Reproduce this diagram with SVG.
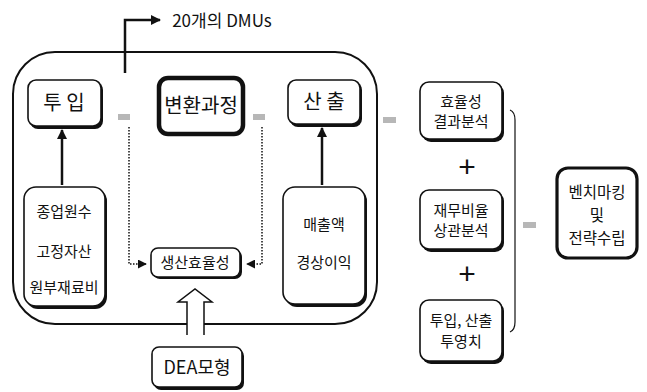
<svg xmlns="http://www.w3.org/2000/svg" width="647" height="392" viewBox="0 0 647 392">
<defs>
<style>
text{font-family:"Noto Sans CJK KR","Liberation Sans",sans-serif;fill:#111;text-anchor:middle}
.box{fill:#fff;stroke:#111;stroke-width:1.6}
.sh{fill:#111}
.t20{font-size:20px}
.t15{font-size:15px}
.solid{stroke:#111;stroke-width:2.5;fill:none}
.dot{stroke:#111;stroke-width:1.5;fill:none;stroke-dasharray:1.5 1.5}
.grey{fill:#aaa;opacity:.85}
</style>
<marker id="ah" viewBox="0 0 10 10" refX="9" refY="5" markerWidth="4" markerHeight="4" orient="auto"><path d="M0,0L10,5L0,10z" fill="#111"/></marker>
<marker id="ahs" viewBox="0 0 10 10" refX="9" refY="5" markerWidth="6" markerHeight="6" orient="auto"><path d="M0,0L10,5L0,10z" fill="#111"/></marker>
</defs>
<rect width="647" height="392" fill="#fff"/>
<rect id="frame" x="13" y="52" width="364" height="272" rx="42" fill="none" stroke="#111" stroke-width="2"/>
<g id="connectors">
<polyline class="solid" points="125,73 125,20 160,20" marker-end="url(#ah)"/>
<line class="solid" x1="62" y1="185" x2="62" y2="130" marker-end="url(#ah)"/>
<line class="solid" x1="322" y1="185" x2="322" y2="128" marker-end="url(#ah)"/>
<polyline class="dot" points="129,127 129,264 146,264" marker-end="url(#ahs)"/>
<polyline class="dot" points="262,127 262,264 247,264" marker-end="url(#ahs)"/>
<path d="M187,335 V302 H178 L195,289 L212,302 H204 V335" fill="#fff" stroke="#111" stroke-width="1.5"/>
<path d="M510,110 Q515,112 515,120 V322 Q515,330 510,332" fill="none" stroke="#111" stroke-width="1.2"/>
<rect class="grey" x="118" y="114" width="12" height="6"/>
<rect class="grey" x="253" y="114" width="12" height="6"/>
<rect class="grey" x="383" y="117" width="13" height="6"/>
<rect class="grey" x="523" y="222" width="13" height="6"/>
</g>
<text x="222" y="27" style="font-size:17px">20개의 DMUs</text>
<g id="input">
<rect class="sh" x="30" y="82" width="73" height="47" rx="8"/>
<rect class="box" x="28" y="80" width="73" height="46" rx="8"/>
<text class="t20" x="64" y="110">투 입</text>
</g>
<g id="process">
<rect x="159" y="78" width="84" height="56" rx="9" fill="#fff" stroke="#111" stroke-width="4.5"/>
<text class="t20" x="201" y="113">변환과정</text>
</g>
<g id="output">
<rect class="sh" x="290" y="82" width="72" height="45" rx="8"/>
<rect class="box" x="288" y="80" width="72" height="44" rx="8"/>
<text class="t20" x="324" y="109">산 출</text>
</g>
<g id="inputList">
<rect class="sh" x="26" y="189" width="81" height="120" rx="12"/>
<rect class="box" x="24" y="187" width="81" height="119" rx="12"/>
<text class="t15" x="64" y="217">종업원수</text>
<text class="t15" x="64" y="257">고정자산</text>
<text class="t15" x="64" y="293">원부재료비</text>
</g>
<g id="outputList">
<rect class="sh" x="285" y="189" width="82" height="118" rx="12"/>
<rect class="box" x="283" y="187" width="82" height="117" rx="12"/>
<text class="t15" x="324" y="230">매출액</text>
<text class="t15" x="324" y="268">경상이익</text>
</g>
<g id="efficiency">
<rect class="sh" x="153" y="250" width="89" height="29" rx="7"/>
<rect class="box" x="151" y="248" width="89" height="29" rx="7"/>
<text class="t15" x="195" y="268">생산효율성</text>
</g>
<g id="dea">
<rect class="sh" x="154" y="349" width="90" height="41" rx="7"/>
<rect class="box" x="152" y="347" width="90" height="40" rx="7"/>
<text x="197" y="374" style="font-size:18px">DEA모형</text>
</g>
<g id="result">
<rect class="sh" x="422" y="84" width="82" height="58" rx="9"/>
<rect class="box" x="420" y="82" width="82" height="57" rx="9"/>
<text class="t15" x="461" y="107">효율성</text>
<text class="t15" x="461" y="127">결과분석</text>
</g>
<text x="467" y="177" style="font-size:30px;font-family:'Liberation Sans',sans-serif">+</text>
<g id="ratio">
<rect class="sh" x="422" y="192" width="82" height="60" rx="9"/>
<rect class="box" x="420" y="190" width="82" height="59" rx="9"/>
<text class="t15" x="461" y="216">재무비율</text>
<text class="t15" x="461" y="236">상관분석</text>
</g>
<text x="467" y="284" style="font-size:30px;font-family:'Liberation Sans',sans-serif">+</text>
<g id="projection">
<rect class="sh" x="422" y="302" width="82" height="62" rx="9"/>
<rect class="box" x="420" y="300" width="82" height="61" rx="9"/>
<text class="t15" x="461" y="326">투입, 산출</text>
<text class="t15" x="461" y="347">투영치</text>
</g>
<g id="benchmark">
<rect x="557" y="168" width="80" height="90" rx="11" fill="#fff" stroke="#111" stroke-width="3.2"/>
<text x="597" y="198" style="font-size:15.5px">벤치마킹</text>
<text x="597" y="221" style="font-size:15.5px">및</text>
<text x="597" y="244" style="font-size:15.5px">전략수립</text>
</g>
</svg>
